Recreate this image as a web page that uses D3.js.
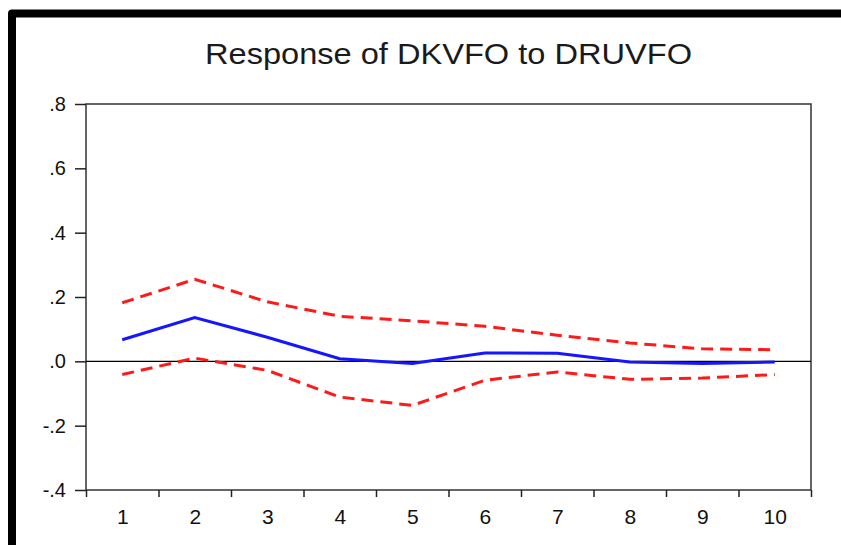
<!DOCTYPE html>
<html><head><meta charset="utf-8">
<script src="https://cdn.jsdelivr.net/npm/d3@7"></script>
<style>body{margin:0;background:#fff}svg{display:block}text{font-family:"Liberation Sans",Arial,sans-serif}</style>
</head><body>
<svg id="c" width="841" height="545"></svg>
<script>
const periods = [1,2,3,4,5,6,7,8,9,10];
const response = [0.067,0.136,0.075,0.008,-0.007,0.026,0.025,-0.002,-0.007,-0.002];
const upperBand = [0.182,0.255,0.185,0.140,0.126,0.109,0.081,0.057,0.039,0.036];
const lowerBand = [-0.041,0.010,-0.028,-0.111,-0.137,-0.059,-0.033,-0.056,-0.052,-0.041];
const yTicks = [-0.4,-0.2,0.0,0.2,0.4,0.6,0.8];
const title = "Response of DKVFO to DRUVFO";

const svg = d3.select("#c");
const L=86,R=811,T=104,B=490;
const x = d3.scaleLinear().domain([0.5,10.5]).range([L,R]);
const y = d3.scaleLinear().domain([-0.4,0.8]).range([B,T]);

// outer thick border
svg.append("path").attr("d","M12,545 V13.5 H841").attr("fill","none")
  .attr("stroke","#000").attr("stroke-width",8).attr("stroke-linejoin","round");

svg.append("text").attr("x",(L+R)/2).attr("y",64).attr("text-anchor","middle")
  .attr("font-size",30).attr("fill","#1a1a1a").attr("textLength",487).attr("lengthAdjust","spacingAndGlyphs").text(title);

// frame
svg.append("rect").attr("x",L).attr("y",T).attr("width",R-L).attr("height",B-T)
  .attr("fill","none").attr("stroke","#333").attr("stroke-width",1.5);

// zero line
svg.append("line").attr("x1",L).attr("x2",R).attr("y1",y(0)).attr("y2",y(0)).attr("stroke","#000").attr("stroke-width",1.2);

const fmt = v => (v < -1e-9 ? "-" : "") + Math.abs(v).toFixed(1).replace(/^0/,"");
const ya = svg.append("g").attr("transform",`translate(${L},0)`)
  .call(d3.axisLeft(y).tickValues(yTicks).tickSize(11).tickPadding(9).tickFormat(fmt));
ya.select(".domain").remove();
ya.selectAll("line").attr("stroke","#222").attr("stroke-width",1.5);
ya.selectAll("text").attr("font-size",20).attr("fill","#111").attr("font-family","Liberation Sans, Arial, sans-serif");

const bounds = d3.range(0.5,11,1);
const xt = svg.append("g").attr("transform",`translate(0,${B})`)
  .call(d3.axisBottom(x).tickValues(bounds).tickSize(7).tickFormat(""));
xt.select(".domain").remove();
xt.selectAll("line").attr("stroke","#222").attr("stroke-width",1.5);

const xl = svg.append("g").attr("transform",`translate(0,${B})`)
  .call(d3.axisBottom(x).tickValues(periods).tickSize(0).tickPadding(19).tickFormat(d3.format("d")));
xl.select(".domain").remove();
xl.selectAll("text").attr("font-size",21).attr("fill","#111").attr("font-family","Liberation Sans, Arial, sans-serif");

const line = arr => d3.line().x((d,i)=>x(periods[i])).y(d=>y(d))(arr);
svg.append("path").attr("d",line(upperBand)).attr("fill","none").attr("stroke","#ff1a1a").attr("stroke-width",3).attr("stroke-dasharray","12,7");
svg.append("path").attr("d",line(lowerBand)).attr("fill","none").attr("stroke","#ff1a1a").attr("stroke-width",3).attr("stroke-dasharray","12,7");
svg.append("path").attr("d",line(response)).attr("fill","none").attr("stroke","#1515ff").attr("stroke-width",3);
</script>
</body></html>
